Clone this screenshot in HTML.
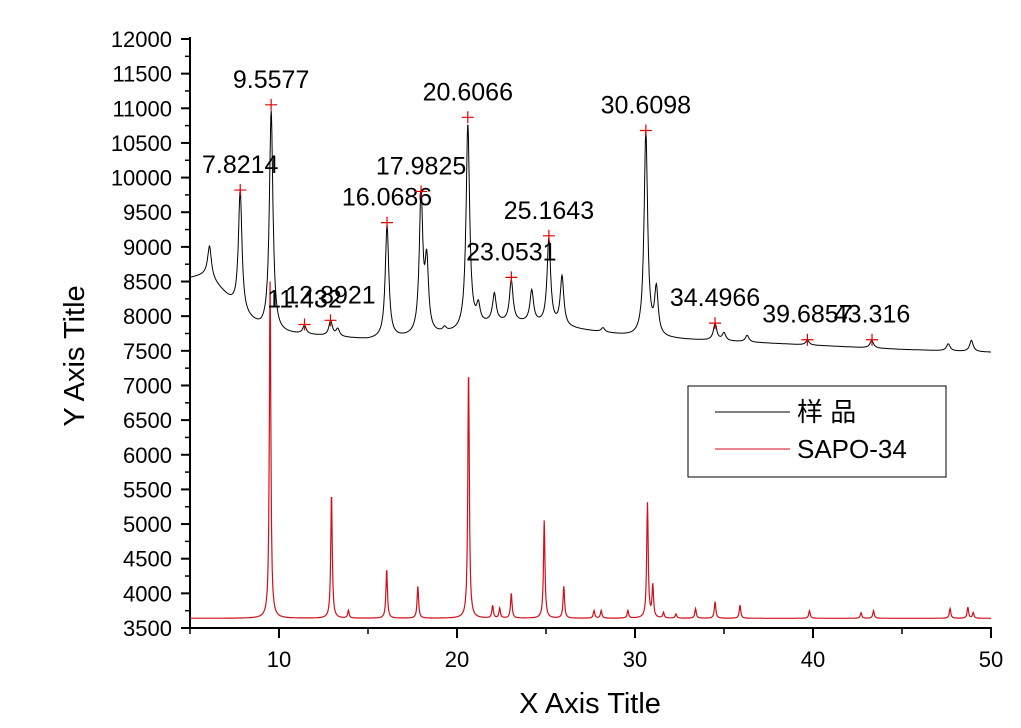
<!DOCTYPE html>
<html><head><meta charset="utf-8"><style>
html,body{margin:0;padding:0;background:#fff;}
svg{display:block;font-family:"Liberation Sans","Noto Sans CJK SC",sans-serif;}
</style></head><body>
<svg id="chart" width="1021" height="728" viewBox="0 0 1021 728" xmlns="http://www.w3.org/2000/svg">
<g id="axes"></g>
<g id="series"></g>
<g id="labels"></g>
<text x="0" y="0" transform="translate(84,356) rotate(-90)" text-anchor="middle" font-size="29">Y Axis Title</text>
<text x="590" y="713" text-anchor="middle" font-size="29">X Axis Title</text>
<g>
<rect x="688" y="386" width="258" height="91" fill="#fff" stroke="#000" stroke-width="1"/>
<line x1="715" y1="412" x2="790" y2="412" stroke="#000"/>
<text x="797" y="421" font-size="26">样 品</text>
<line x1="715" y1="449" x2="790" y2="449" stroke="#d0101a"/>
<text x="797" y="458" font-size="26">SAPO-34</text>
</g>
</svg>
<script>
// data arrays
const xTicks = [10,20,30,40,50];
const yTicks = [3500,4000,4500,5000,5500,6000,6500,7000,7500,8000,8500,9000,9500,10000,10500,11000,11500,12000];
const sampleBaseX = [5,6,7,8,9,10,12,15,18,20,22,24,27,30,33,35,40,45,50];
const sampleBaseY = [8550,8600,8300,8000,7820,7750,7720,7660,7700,7760,7900,7900,7800,7700,7660,7640,7580,7520,7480];
const samplePeakX = [6.1,7.82,9.56,11.43,12.9,13.3,16.07,17.98,18.3,19.3,20.61,21.2,22.1,23.05,24.2,25.16,25.9,27.0,28.2,30.61,31.2,34.5,35.0,36.3,39.69,43.3,47.6,48.9];
const samplePeakY = [9000,9800,10950,7850,7920,7800,9300,9700,8700,7800,10750,8100,8300,8500,8350,9100,8550,7800,7820,10650,8350,7880,7750,7720,7650,7650,7600,7650];
const refBase = 3640;
const refPeakX = [9.5,12.95,13.9,16.05,17.8,20.65,22.0,22.4,23.05,24.9,26.0,27.7,28.1,29.6,30.7,31.0,31.6,32.3,33.4,34.5,35.9,39.8,42.7,43.4,47.7,48.7,49.0];
const refPeakY = [8500,5450,3750,4350,4100,7250,3820,3780,4000,5050,4100,3750,3750,3750,5300,4100,3720,3700,3780,3880,3830,3750,3720,3750,3780,3800,3720];
const labelX = [7.8214,9.5577,11.432,12.8921,16.0686,17.9825,20.6066,23.0531,25.1643,30.6098,34.4966,39.6857,43.316];
const labelText = ["7.8214","9.5577","11.432","12.8921","16.0686","17.9825","20.6066","23.0531","25.1643","30.6098","34.4966","39.6857","43.316"];
const labelY = [9820,11050,7880,7940,9350,9800,10870,8560,9160,10680,7900,7660,7660];

const X0=190,X1=991,Y0=628,Y1=39;
const xs=v=>X0+(v-5)/45*(X1-X0);
const ys=v=>Y0-(v-3500)/8500*(Y0-Y1);
const NS="http://www.w3.org/2000/svg";
function mk(tag,parent,attrs){const e=document.createElementNS(NS,tag);for(const k in attrs)e.setAttribute(k,attrs[k]);parent.appendChild(e);return e;}
const axes=document.getElementById('axes');
let a=mk('line',axes,{x1:X0,y1:Y1-2,x2:X0,y2:Y0,stroke:'#000','stroke-width':2});


a=mk('line',axes,{x1:X0-1,y1:Y0,x2:X1+1,y2:Y0,stroke:'#000','stroke-width':2});


yTicks.forEach(v=>{const y=ys(v);
 const t=mk('line',axes,{x1:X0-9,y1:y,x2:X0,y2:y,stroke:'#000','stroke-width':2});
 
 
 if(v<12000){const m=mk('line',axes,{x1:X0-5,y1:ys(v+250),x2:X0,y2:ys(v+250),stroke:'#000','stroke-width':1.5});
 
 }
 const l=mk('text',axes,{x:172,y:y+8,'text-anchor':'end','font-size':22});l.textContent=v;
 
 
});
[5,15,25,35,45].forEach(v=>{const m=mk('line',axes,{x1:xs(v),y1:Y0,x2:xs(v),y2:Y0+6,stroke:'#000','stroke-width':1.5});
 
 });
xTicks.forEach(v=>{const x=xs(v);
 const t=mk('line',axes,{x1:x,y1:Y0,x2:x,y2:Y0+10,stroke:'#000','stroke-width':2});
 
 
 const l=mk('text',axes,{x:x,y:Y0+39,'text-anchor':'middle','font-size':22});l.textContent=v;
 
 
});
function interpBase(x){for(let i=0;i<sampleBaseX.length-1;i++){if(x<=sampleBaseX[i+1]){const t=(x-sampleBaseX[i])/(sampleBaseX[i+1]-sampleBaseX[i]);return sampleBaseY[i]+t*(sampleBaseY[i+1]-sampleBaseY[i]);}}return sampleBaseY[sampleBaseY.length-1];}
function curve(baseFn,px,py,w){let d='';for(let x=5;x<=50.001;x+=0.02){const b=baseFn(x);let v=b;
 for(let i=0;i<px.length;i++){const amp=py[i]-baseFn(px[i]);const dx=(x-px[i])/w;v+=amp/(1+dx*dx);}
 d+=(d?'L':'M')+xs(x).toFixed(1)+','+ys(v).toFixed(1);}return d;}
const ser=document.getElementById('series');
const p1=mk('path',ser,{d:curve(interpBase,samplePeakX,samplePeakY,0.12),fill:'none',stroke:'#000','stroke-width':1});


const p2=mk('path',ser,{d:curve(()=>refBase,refPeakX,refPeakY,0.05),fill:'none',stroke:'#d0101a','stroke-width':1.2});


const lab=document.getElementById('labels');
labelX.forEach((v,i)=>{const x=xs(v),y=ys(labelY[i]);
 const m=mk('path',lab,{d:`M${x-6},${y}H${x+6}M${x},${y-6}V${y+6}`,stroke:'#e00000','stroke-width':1.2});
 
 
 const t=mk('text',lab,{x:x,y:y-17,'text-anchor':'middle','font-size':25});t.textContent=labelText[i];
 
 
});
</script>
</body></html>
